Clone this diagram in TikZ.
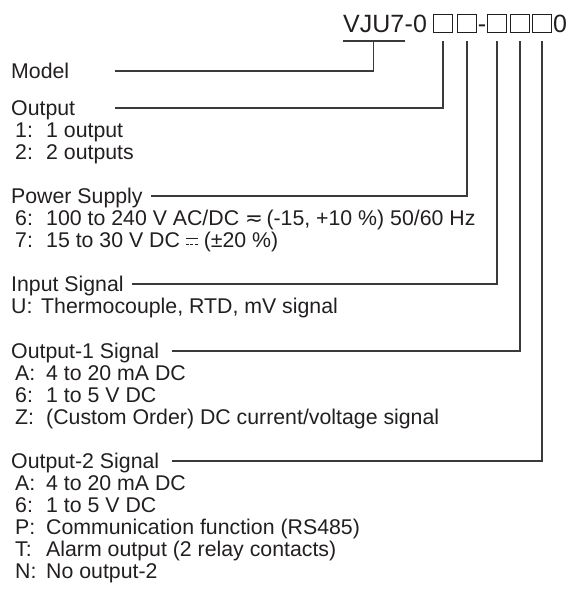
\documentclass[tikz,border=0pt]{standalone}
\usepackage{fontspec}
\setmainfont{Liberation Sans}
\newfontfamily\symfont{DejaVu Sans}
\usetikzlibrary{positioning}
\definecolor{ink}{HTML}{231F20}
\definecolor{wire}{HTML}{3A3A3A}
% small DC mark: solid bar over a broken one
\newcommand{\dcmark}{\mbox{\rlap{\raisebox{9pt}{\rule{12pt}{1pt}}}\raisebox{2.5pt}{\rule{3pt}{1pt}\hspace{1.5pt}\rule{3pt}{1pt}\hspace{1.5pt}\rule{3pt}{1pt}}}}

\begin{document}
\begin{tikzpicture}[x=1pt,y=-1pt,
    txt/.style={anchor=west,inner sep=0pt,text height=15.2pt,text depth=0pt,color=ink,
                font=\fontsize{21.3pt}{23pt}\selectfont},
    code/.style={anchor=base west,inner sep=0pt,color=ink,font=\fontsize{25pt}{28pt}\selectfont},
    slot/.style={draw=ink,line width=1pt,minimum width=19pt,minimum height=18pt,inner sep=0pt},
    lead/.style={draw=wire,line width=1.2pt}]
  \path[use as bounding box] (0,0) rectangle (569,591);

  % model code
  \node[code] (vju) at (343,33) {VJU7};
  \node[code] (dz) at (vju.base east) {-0};
  \foreach \n/\x in {1/443, 2/467, 3/497, 4/520, 5/542}
    \node[slot] (b\n) at (\x,24) {};
  \node[code,anchor=base] (sep) at (482,33) {-};
  \node[code] (tail) at (553,33) {0};

  % headings
  \node[txt] (mdl) at (11,71) {Model};
  \node[txt] (outp) at (11,108) {Output};
  \node[txt] (pwr) at (11,196) {Power Supply};
  \node[txt] (inp) at (11,284) {Input Signal};
  \node[txt] (sig1) at (11,351) {Output-1 Signal};
  \node[txt] (sig2) at (11,461) {Output-2 Signal};

  % choices
  \foreach \k/\v/\y [count=\i] in {1:/1 output/130, 2:/2 outputs/152}
    \node[txt] (o\i) at (15,\y) {\makebox[31pt][l]{\k}\v};
  \foreach \k/\v/\y [count=\i] in {
      6:/{100 to 240 V AC/DC {\symfont ≂}\,(-15, +10 \%) 50/60 Hz}/218,
      7:/{15 to 30 V DC \dcmark\ (±20 \%)}/240}
    \node[txt] (p\i) at (15,\y) {\makebox[31pt][l]{\k}\v};
  \node[txt] (u1) at (11,306) {\makebox[30pt][l]{U:}Thermocouple, RTD, mV signal};
  \foreach \k/\v/\y [count=\i] in {A:/4 to 20 mA DC/373, 6:/1 to 5 V DC/395,
      Z:/{(Custom Order) DC current/voltage signal}/417}
    \node[txt] (s\i) at (15,\y) {\makebox[31pt][l]{\k}\v};
  \foreach \k/\v/\y [count=\i] in {A:/4 to 20 mA DC/483, 6:/1 to 5 V DC/505,
      P:/Communication function (RS485)/527, T:/Alarm output (2 relay contacts)/549,
      N:/No output-2/571}
    \node[txt] (t\i) at (15,\y) {\makebox[31pt][l]{\k}\v};

  % leaders
  \draw[lead] ([yshift=-8pt]vju.base west) -- ([yshift=-8pt]vju.base east);
  \draw[lead] ([xshift=46pt]mdl.east) -| ([yshift=-8pt]vju.base);
  \draw[lead] ([xshift=40pt]outp.east) -| ([yshift=-8pt]b1.south);
  \draw[lead] ([xshift=8pt]pwr.east) -| ([yshift=-8pt]b2.south);
  \draw[lead] ([xshift=8pt]inp.east) -| ([yshift=-8pt]b3.south);
  \draw[lead] ([xshift=13pt]sig1.east) -| ([yshift=-8pt]b4.south);
  \draw[lead] ([xshift=13pt]sig2.east) -| ([yshift=-8pt]b5.south);
\end{tikzpicture}
\end{document}
